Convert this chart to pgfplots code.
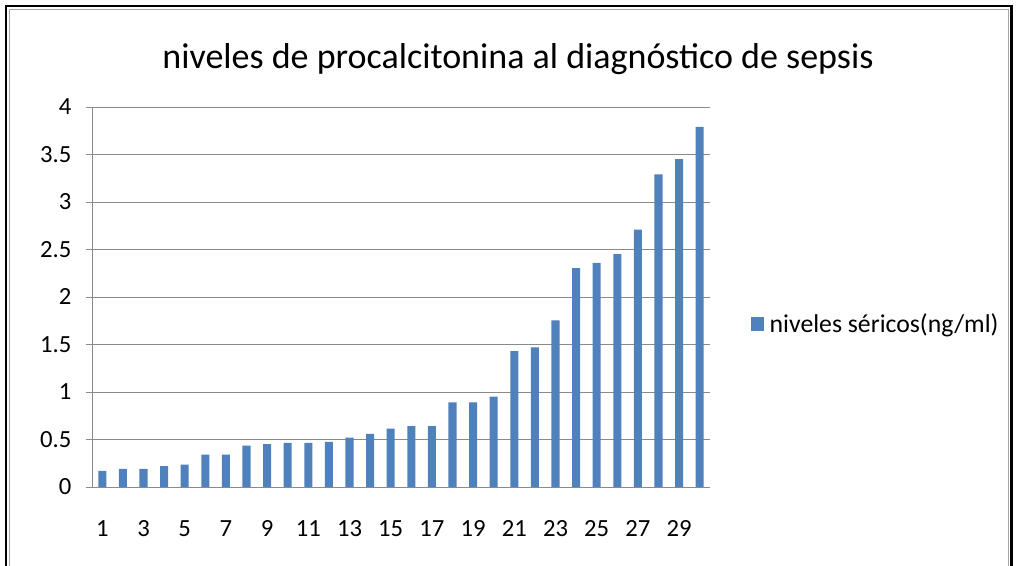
\documentclass[border=0pt]{standalone}
\usepackage{pgfplots}
\pgfplotsset{compat=1.18}
\usepackage{fontspec}
\setmainfont{Carlito}
\definecolor{barblue}{HTML}{4F81BD}
\definecolor{gridgray}{HTML}{8A8A8A}
\begin{document}
\begin{tikzpicture}
\useasboundingbox (0,0) rectangle (762.75pt,424.5pt);
\fill[white] (0,0) rectangle (762.75pt,424.5pt);
% outer frame
\draw[black, line width=1.9pt] (4.5pt,-2pt) -- (4.5pt,420pt) -- (758.5pt,420pt) -- (758.5pt,-2pt);
\draw[gray!70, line width=0.6pt] (6.9pt,-2pt) -- (6.9pt,417.6pt) -- (756pt,417.6pt) -- (756pt,-2pt);
\node[font=\fontsize{27}{32}\selectfont, anchor=center] at (388.5pt,380pt) {niveles de procalcitonina al diagnóstico de sepsis};
\begin{axis}[
  at={(69pt,59.25pt)}, anchor=south west,
  scale only axis, width=463.5pt, height=285pt,
  xmin=0.5, xmax=30.5, ymin=0, ymax=4,
  axis lines*=left,
  axis line style={gridgray, line width=0.6pt},
  ytick={0,0.5,...,4},
  yticklabels={0,0.5,1,1.5,2,2.5,3,3.5,4},
  xtick={1,3,...,29},
  minor xtick={0.5,1.5,...,30.5},
  xtick style={draw=none},
  minor x tick style={gridgray, line width=0.6pt},
  ytick style={gridgray, line width=0.6pt},
  tick align=outside,
  major tick length=4.5pt, minor tick length=4.5pt,
  ymajorgrids, grid style={gridgray, line width=0.6pt},
  /pgf/number format/assume math mode=true,
  tick label style={font=\fontsize{18.5}{22}\selectfont, text=black},
  yticklabel style={xshift=-7.5pt},
  xticklabel style={yshift=-17pt},
  legend style={at={(axis description cs:1.066,0.429)}, anchor=west, draw=none, fill=none,
    font=\fontsize{19.3}{22}\selectfont, inner sep=0pt,
    legend cell align=left, nodes={inner xsep=4pt}},
  legend image code/.code={\fill[barblue] (0pt,-5pt) rectangle (10pt,5pt);},
  clip=false,
]
\addplot[ybar, bar width=0.39, fill=barblue, draw=none] coordinates {
(1,0.17) (2,0.19) (3,0.19) (4,0.22) (5,0.235) (6,0.34) (7,0.34) (8,0.435) (9,0.45) (10,0.465)
(11,0.465) (12,0.475) (13,0.52) (14,0.56) (15,0.615) (16,0.64) (17,0.64) (18,0.89) (19,0.89) (20,0.95)
(21,1.43) (22,1.47) (23,1.755) (24,2.305) (25,2.36) (26,2.45) (27,2.71) (28,3.29) (29,3.45) (30,3.79)
};
\addlegendentry{niveles séricos(ng/ml)}
\end{axis}
\end{tikzpicture}
\end{document}
